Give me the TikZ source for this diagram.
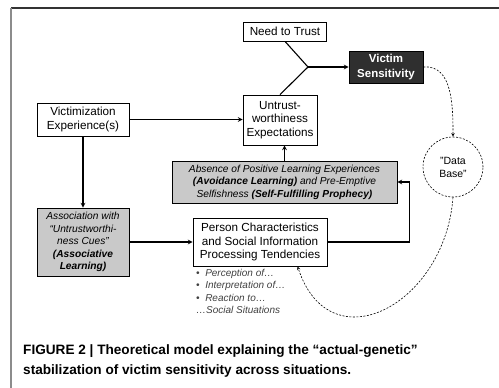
\documentclass[tikz,border=0pt]{standalone}
\usepackage{fontspec}
\setmainfont{Liberation Sans}
\definecolor{boxgray}{HTML}{C9C9C9}
\definecolor{darkbox}{HTML}{2F2F2F}
\definecolor{notegray}{HTML}{404040}
\begin{document}
\begin{tikzpicture}[x=1pt, y=-1pt,
            box/.style={rectangle, draw, line width=0.8pt, fill=white, text centered, align=center, inner sep=1pt, font=\fontsize{11.7}{13.5}\selectfont},
            shaded/.style={box, fill=boxgray, font=\fontsize{10.2}{12.4}\selectfont\itshape},
            dark/.style={box, fill=darkbox, text=white, font=\fontsize{11.5}{15}\selectfont\bfseries},
            arrow/.style={->, >=stealth, line width=1.1pt},
            link/.style={line width=1.1pt},
            feedback/.style={->, >=stealth, line width=0.6pt, dash pattern=on 2pt off 1.5pt}
        ]
            \useasboundingbox (0,0) rectangle (499,388);
            \draw[line width=1.2pt, black!80] (11,8) -- (499,8);
            \draw[line width=1.2pt, black!45] (11,8) -- (11,388);

            \node[box, minimum width=83, minimum height=19] (trust) at (285,31.5) {Need to Trust};
            \node[dark, minimum width=74, minimum height=32] (victim) at (386,67) {Victim\\Sensitivity};
            \node[box, minimum width=74, minimum height=50] (untrust) at (280,120) {Untrust-\\worthiness\\Expectations};
            \node[box, minimum width=92, minimum height=33] (experience) at (83,119.5) {Victimization\\Experience(s)};
            \node[shaded, minimum width=225, minimum height=42] (absence) at (284.5,182) {Absence of Positive Learning Experiences\\\textbf{(Avoidance Learning)} and Pre-Emptive\\Selfishness \textbf{(Self-Fulfilling Prophecy)}};
            \node[shaded, minimum width=92, minimum height=68] (assoc) at (83,242) {Association with\\“Untrustworthi-\\ness Cues”\\\textbf{(Associative}\\\textbf{Learning)}};
            \node[box, minimum width=134, minimum height=48] (person) at (260,242) {Person Characteristics\\and Social Information\\Processing Tendencies};
            \node[circle, draw, line width=0.6pt, dash pattern=on 2pt off 1.5pt, minimum size=60, align=center, font=\fontsize{10.5}{13}\selectfont] (database) at (453,167) {"Data\\Base"};
            \node[anchor=north west, align=left, inner sep=0pt, text=notegray, font=\fontsize{10}{12.4}\selectfont\itshape] (tendencies) at (196,269) {\textbullet\ \ Perception of…\\\textbullet\ \ Interpretation of…\\\textbullet\ \ Reaction to…\\…Social Situations};
            \node[anchor=north west, align=left, inner sep=0pt, font=\fontsize{13.6}{20}\selectfont\bfseries] (caption) at (23,344) {FIGURE 2 | Theoretical model explaining the “actual-genetic”\\stabilization of victim sensitivity across situations.};

            \coordinate (fork) at (308,67);
            \draw[link] (trust.south) -- (fork);
            \draw[link] (untrust.north) -- (fork);
            \draw[arrow] (fork) -- (victim.west);
            \draw[arrow] (experience.east) -- (experience.east -| untrust.west);
            \draw[arrow] (experience) -- (assoc);
            \draw[arrow] (assoc) -- (person);
            \draw[arrow] (absence.north) -- (absence.north |- untrust.south);
            \draw[arrow] (person.east) -- ++(82,0) |- (absence.east);
            \draw[feedback] (victim.east) to[out=5, in=90] (database.north);
            \draw[feedback] (database.south) .. controls (445,305) and (330,365) .. (person.-33);
        \end{tikzpicture}
\end{document}
